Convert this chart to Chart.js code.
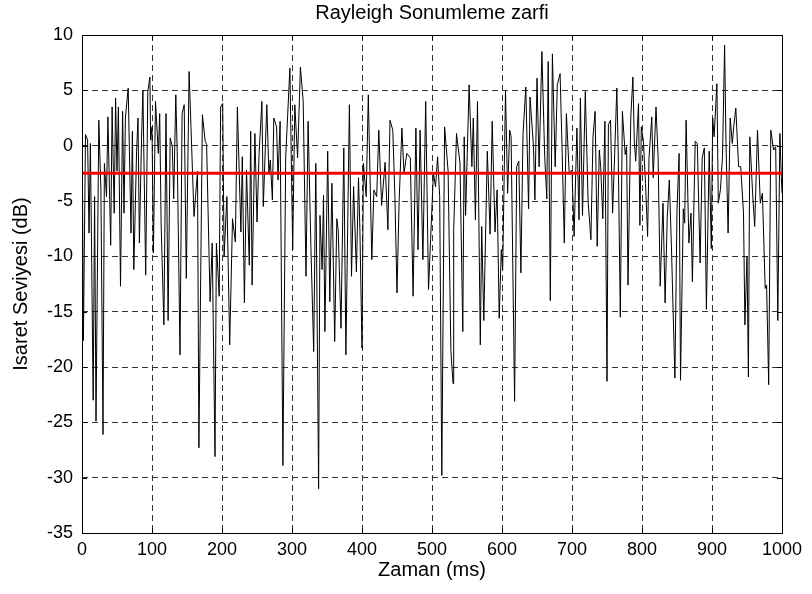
<!DOCTYPE html>
<html lang="tr">
<head>
    <meta charset="UTF-8">
    <title>Rayleigh Sonumleme zarfi</title>
    <script src="https://cdn.jsdelivr.net/npm/chart.js"></script>
    <style>
        body, html {
            margin: 0;
            padding: 0;
            background-color: #ffffff;
        }
        #fadingChart {
            display: block;
        }
    </style>
</head>
<body>
    <canvas id="fadingChart" width="812" height="594"></canvas>
    <script>
        // vertex times (ms) and envelope level (dB)
        const timeMs = [
            0, 2, 5, 8, 10, 12, 16, 18, 20, 24, 27, 30, 32, 35, 37, 41, 43, 46, 48, 50,
            52, 55, 58, 60, 62, 66, 70, 72, 74, 78, 80, 82, 85, 87, 91, 94, 97, 98, 100, 102,
            105, 109, 111, 113, 117, 120, 123, 126, 129, 131, 134, 136, 140, 143, 146, 149, 153, 160, 165, 167,
            172, 176, 178, 183, 186, 190, 192, 196, 198, 201, 203, 207, 211, 215, 219, 222, 227, 229, 232, 235,
            239, 241, 243, 247, 250, 253, 257, 259, 264, 267, 269, 272, 274, 278, 280, 283, 287, 291, 297, 301,
            304, 308, 312, 316, 320, 323, 327, 331, 334, 338, 340, 343, 345, 347, 351, 354, 357, 361, 364, 366,
            370, 374, 377, 382, 385, 388, 392, 395, 397, 400, 402, 406, 409, 414, 417, 421, 424, 428, 433, 437,
            440, 444, 447, 450, 453, 457, 460, 464, 469, 473, 477, 480, 483, 487, 491, 495, 498, 502, 505, 508,
            511, 514, 518, 523, 527, 530, 531, 535, 540, 544, 546, 548, 553, 557, 559, 562, 565, 569, 571, 574,
            579, 583, 586, 590, 593, 596, 599, 601, 605, 608, 611, 613, 618, 621, 624, 627, 630, 634, 638, 640,
            645, 647, 650, 653, 657, 661, 664, 666, 669, 672, 676, 679, 683, 686, 689, 692, 696, 700, 703, 707,
            710, 712, 715, 719, 723, 727, 730, 733, 736, 739, 741, 744, 747, 750, 752, 755, 758, 761, 764, 766,
            769, 772, 776, 778, 780, 784, 787, 789, 791, 795, 797, 799, 802, 805, 808, 810, 814, 816, 820, 823,
            826, 830, 833, 836, 839, 842, 847, 850, 853, 855, 859, 861, 863, 867, 870, 872, 876, 879, 883, 886,
            889, 892, 896, 899, 901, 903, 907, 909, 912, 915, 918, 920, 923, 926, 929, 931, 934, 938, 941, 945,
            947, 950, 952, 954, 958, 961, 965, 969, 972, 976, 978, 981, 984, 988, 991, 994, 997, 999, 1000
        ];
        const levelDb = [
            3.5, -17.6, 1, 0.5, -7.9, 0.2, -23, -4.6, -24.9, 2.3, -4, -26.1, -1.6, -4.6, 2.6, -9, 3.5, -6.1, 4.3, -2.3,
            3.5, -12.7, 3.1, -6.1, 2.5, 5.2, -7.9, 1.3, -11.2, -0.5, 2.5, -8.8, 0.5, 5, -11.7, 4.9, 6.2, 0.5, 1.7, -9.7,
            4, -0.7, 2.9, -7, -16.2, 2.9, -15.8, 0.7, -0.1, -4.8, 4.6, -0.5, -18.9, 2.9, 3.7, -12, 6.7, -6.4, -2.3, -27.3,
            2.8, 0.4, 0.1, -14.1, -8.8, -28.1, -8.8, -13.6, 3.5, 3.8, -10, -4.6, -18, -6.6, -8.7, 3.5, -7.8, -1, -14.2, -2.2,
            -10.8, 1.3, -12.6, 1.1, -6.9, -0.7, 4, -5.5, 3.7, -2.5, -1.3, -4.9, 2.5, 1.7, -3.1, 2.2, -28.9, -1, 7, -9.4,
            3.7, -1.1, 7.1, 4, -11.8, 2.2, -9.1, -18.6, -1.6, -31, -6.3, -11.2, -4.5, -16.8, -0.5, -14.1, -3.4, -17.7, -6.6, -7.6,
            -16.5, -0.2, -18.9, 3.7, -11.8, -3.7, -11.4, -2.9, -7.6, -18.3, -1.6, -4.6, 4.6, -10.3, -4, -4.6, 1.4, -5.4, -1.5, -7.6,
            2.3, 1.4, -4.6, -13.3, -5.1, 1.6, -2.5, -0.7, -1.1, -13.6, 1.6, -9.4, 1.4, -10.3, 4, -13, -8.5, -2.5, -3.7, -1,
            -4.6, -29.8, 1.7, -2.3, -18.6, -21.5, -7.6, 1.1, -1.6, -16.8, 0.8, -6.3, 5.5, -1.9, 2.5, -6.7, 4, -18, -7.3, -15.8,
            -0.5, -8, 2.2, -7.8, -4, -15.6, -9.4, -11.2, 5, -4.3, 1.4, 0.8, -23.1, -1.9, -1.4, -11.5, 1, 5.3, -5.7, 4.4,
            -0.1, -4.9, 6.1, -1.9, 8.5, -1, -4.8, 7.6, -14, 8.3, -1.9, 5.5, 6.5, -0.7, -8.8, 2.9, -2.5, -2.2, -8.2, 1.6,
            -6.7, 4.3, -6.3, 4.9, -5, -8.5, 0.8, 3.1, -9.1, -0.4, -1.9, -6.6, 2.2, -21.3, 1.9, 2.3, -6.1, -0.7, 5.2, -0.4,
            -15.5, 3.1, -0.8, -0.1, -12.6, 2.6, 6.2, 0.4, -1.4, 3.8, -7.2, 1.7, 0.4, -3.4, -8.2, -1.1, 2.6, -2.9, 3.5, -1,
            -12.7, -5.2, -14.2, -6.6, -3.1, -9, -21, -5.8, -0.7, -21.2, -5.7, -7, 2.3, -8.8, -6.1, -12.3, 0.4, 0.2, -10.6, -1.1,
            -0.2, -14.8, -0.5, -9.3, 2.5, 0.8, 5.6, -5.2, -4, -1, 9.1, 0.2, -7.9, 2.5, 0.2, 1.7, 3.4, -1.9, -1.9, -6.1,
            -16.2, -10, -20.9, 0.8, -4.3, -7.3, 1.4, -5.2, -4.3, -12.9, -12.6, -21.6, 1.4, -0.4, -0.1, -15.8, 1.1, -2.8, -4.3
        ];
        // mean level (red line)
        const meanTimeMs = [0, 1000];
        const meanLevelDb = [-2.5, -2.5];

        const xTicks = [0, 100, 200, 300, 400, 500, 600, 700, 800, 900, 1000];
        const yTicks = [-35, -30, -25, -20, -15, -10, -5, 0, 5, 10];

        const signalPoints = timeMs.map((t, i) => ({ x: t, y: levelDb[i] }));
        const meanPoints = meanTimeMs.map((t, i) => ({ x: t, y: meanLevelDb[i] }));

        const fontFamily = '"Liberation Sans", Arial, Helvetica, sans-serif';

        // solid box round the plot plus inward tick marks, like the original figure
        const boxPlugin = {
            id: 'boxPlugin',
            afterDraw(chart) {
                const { ctx, chartArea: a, scales } = chart;
                ctx.save();
                ctx.strokeStyle = '#000';
                ctx.lineWidth = 1;
                ctx.setLineDash([]);
                ctx.beginPath();
                xTicks.forEach(v => {
                    const px = Math.round(scales.x.getPixelForValue(v)) + 0.5;
                    ctx.moveTo(px, a.bottom); ctx.lineTo(px, a.bottom - 5);
                    ctx.moveTo(px, a.top); ctx.lineTo(px, a.top + 5);
                });
                yTicks.forEach(v => {
                    const py = Math.round(scales.y.getPixelForValue(v)) + 0.5;
                    ctx.moveTo(a.left, py); ctx.lineTo(a.left + 5, py);
                    ctx.moveTo(a.right, py); ctx.lineTo(a.right - 5, py);
                });
                ctx.stroke();
                ctx.strokeRect(Math.round(a.left) + 0.5, Math.round(a.top) + 0.5,
                    Math.round(a.right - a.left), Math.round(a.bottom - a.top));
                ctx.restore();
            }
        };

        const ctx = document.getElementById('fadingChart').getContext('2d');
        const fadingChart = new Chart(ctx, {
            type: 'line',
            data: {
                datasets: [
                    {
                        label: 'Ortalama',
                        data: meanPoints,
                        borderColor: '#ff0000',
                        borderWidth: 3,
                        pointRadius: 0,
                        fill: false,
                        order: 0
                    },
                    {
                        label: 'Zarf',
                        data: signalPoints,
                        borderColor: '#000000',
                        borderWidth: 1,
                        pointRadius: 0,
                        tension: 0,
                        fill: false,
                        order: 1
                    }
                ]
            },
            options: {
                responsive: false,
                animation: false,
                layout: { padding: { left: 0, right: 30, top: 0, bottom: 0 } },
                scales: {
                    x: {
                        type: 'linear',
                        min: 0,
                        max: 1000,
                        afterFit: scale => { scale.height = 61; },
                        afterBuildTicks: scale => { scale.ticks = xTicks.map(v => ({ value: v })); },
                        ticks: {
                            color: '#000',
                            padding: 6,
                            maxRotation: 0,
                            font: { family: fontFamily, size: 18 },
                            callback: value => String(value)
                        },
                        grid: { color: '#333', drawTicks: false, lineWidth: 1 },
                        border: { display: false, dash: [6, 4] },
                        title: {
                            display: true,
                            text: 'Zaman (ms)',
                            color: '#000',
                            font: { family: fontFamily, size: 20 },
                            padding: { top: 0, bottom: 12 }
                        }
                    },
                    y: {
                        type: 'linear',
                        min: -35,
                        max: 10,
                        afterFit: scale => { scale.width = 82; },
                        afterBuildTicks: scale => { scale.ticks = yTicks.map(v => ({ value: v })); },
                        ticks: {
                            color: '#000',
                            padding: 9,
                            font: { family: fontFamily, size: 18 },
                            callback: value => String(value)
                        },
                        grid: { color: '#333', drawTicks: false, lineWidth: 1 },
                        border: { display: false, dash: [6, 4] },
                        title: {
                            display: true,
                            text: 'Isaret Seviyesi (dB)',
                            color: '#000',
                            font: { family: fontFamily, size: 20 },
                            padding: { top: 9, bottom: 0 }
                        }
                    }
                },
                plugins: {
                    legend: { display: false },
                    tooltip: { enabled: false },
                    title: {
                        display: true,
                        text: 'Rayleigh Sonumleme zarfi',
                        color: '#000',
                        fullSize: false,
                        font: { family: fontFamily, size: 20, weight: 'normal' },
                        padding: { top: 1, bottom: 10 }
                    }
                }
            },
            plugins: [boxPlugin]
        });
    </script>
</body>
</html>
